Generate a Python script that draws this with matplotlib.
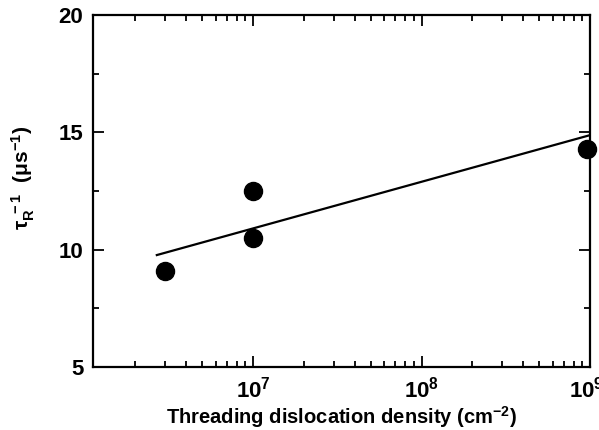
import numpy as np
import matplotlib
matplotlib.use('Agg')
import matplotlib.pyplot as plt
import matplotlib.transforms as mtransforms

# data
density = [3e6, 1e7, 1e7, 9.6e8]
rate = [9.1, 12.5, 10.5, 14.3]

# fitted line end points
fit_x = [2.68e6, 1e9]
fit_y = [9.77, 14.88]

plt.rcParams['font.family'] = ['Liberation Sans', 'DejaVu Sans']
plt.rcParams['font.weight'] = 'bold'
plt.rcParams['axes.labelweight'] = 'bold'
plt.rcParams['mathtext.fontset'] = 'custom'
plt.rcParams['mathtext.rm'] = 'Liberation Sans:bold'
plt.rcParams['mathtext.it'] = 'Liberation Sans:bold'
plt.rcParams['mathtext.bf'] = 'Liberation Sans:bold'
plt.rcParams['mathtext.default'] = 'bf'

fig = plt.figure(figsize=(5.99, 4.30), dpi=100)
ax = fig.add_axes([93/599, 1 - 367/430, (590-93)/599, (367-15)/430])

ax.plot(fit_x, fit_y, color='k', lw=1.6)
ax.plot(density, rate, 'o', color='k', ms=13, clip_on=False, zorder=3)

ax.set_xscale('log')
ax.set_xlim(1.12e6, 1e9)
ax.set_ylim(5, 20)
ax.set_yticks([5, 10, 15, 20])
ax.set_yticks([7.5, 12.5, 17.5], minor=True)
ax.set_xticks([1e7, 1e8, 1e9])

for s in ax.spines.values():
    s.set_linewidth(1.6)
ax.tick_params(which='both', direction='in', top=True, right=True, width=1.3)
ax.tick_params(which='major', length=8, labelsize=16, pad=7)
ax.tick_params(which='minor', length=4.5)

# last label sits at the right edge, nudge it left a bit like the original
last = ax.get_xticklabels()[-1]
last.set_transform(last.get_transform() + mtransforms.ScaledTranslation(-4/100, 0, fig.dpi_scale_trans))

ax.set_xlabel('Threading dislocation density (cm$^{-2}$)', fontsize=14.5)
ax.xaxis.set_label_coords(0.5, -0.105)
ax.set_ylabel(r'$\tau_R^{\ -1}$  ($\mu$s$^{-1}$)', fontsize=15)
ax.yaxis.set_label_coords(-0.113, 0.537)

fig.savefig('out.png', dpi=100)
